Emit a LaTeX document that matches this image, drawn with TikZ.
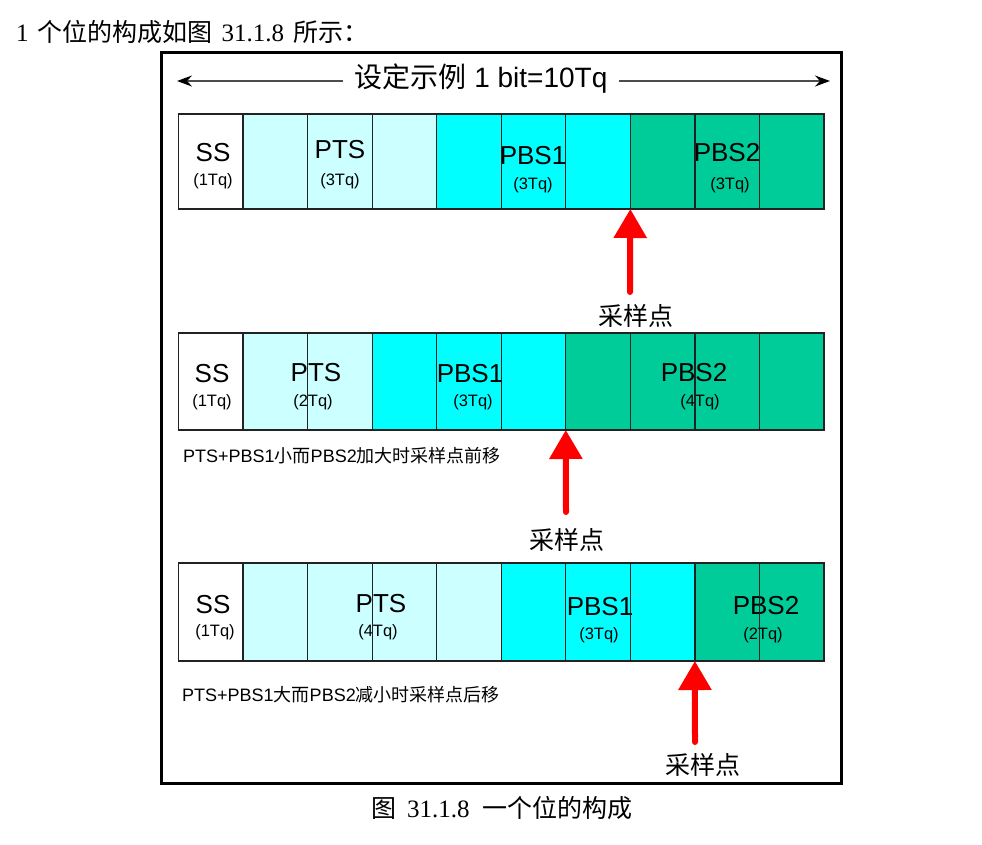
\documentclass[tikz,border=0pt]{standalone}
\usepackage{fontspec}
\setmainfont{Liberation Serif}
\newfontfamily\cjkf{Noto Sans CJK SC}
\newfontfamily\arialf{Liberation Sans}
\usetikzlibrary{arrows.meta}
\definecolor{lcyan}{HTML}{CCFFFF}
\definecolor{cyanf}{HTML}{00FFFF}
\definecolor{greenf}{HTML}{00CC99}
\definecolor{lineg}{HTML}{222222}
\tikzset{
  cellfill/.style={draw=none, inner sep=0pt, outer sep=0pt, minimum width=64.55pt, anchor=north west},
  cellline/.style={draw=lineg, line width=1.3pt},
  big/.style={font=\arialf\fontsize{26}{26}\selectfont, inner sep=0pt},
  small/.style={font=\arialf\fontsize{16.5}{16.5}\selectfont, inner sep=0pt},
  samp/.style={font=\cjkf\fontsize{25}{25}\selectfont, inner sep=0pt},
  note/.style={font=\fontsize{18}{18}\selectfont, inner sep=0pt, anchor=west},
  redarrow/.style={draw=red, line width=6pt, line cap=round, -{Triangle[width=32pt,length=29pt]}},
  toparrow/.style={draw=black!70, line width=1.4pt, -{Stealth[length=15pt,width=11pt,inset=5pt,color=black]}},
  frame/.style={draw=black, line width=3pt}
}
\begin{document}
\begin{tikzpicture}[x=1pt,y=-1pt]
\useasboundingbox (0,0) rectangle (982,844);
% intro line and caption
\node[anchor=west, inner sep=0pt, font=\fontsize{25}{25}\selectfont] (intro) at (16,32)
  {1\hspace{9pt}{\cjkf 个位的构成如图}\hspace{9pt}31.1.8\hspace{9pt}{\cjkf 所示：}};
\node[inner sep=0pt, font=\fontsize{25}{25}\selectfont] (caption) at (502,808)
  {{\cjkf 图}\, 31.1.8\ \ {\cjkf 一个位的构成}};
% frame
\draw[frame] (161.5,52.5) rectangle (841.5,783);
% title with arrows
\node[inner sep=0pt, font=\fontsize{28}{28}\selectfont] (title) at (481,79)
  {{\cjkf 设定示例}\arialf\ 1 bit=10Tq};
\coordinate (ltip) at (177,81);
\coordinate (rtip) at (830,81);
\coordinate (lstart) at (343,81);
\coordinate (rstart) at (619,81);
\draw[toparrow] (lstart) -- (ltip);
\draw[toparrow] (rstart) -- (rtip);

% ---------- row 1 ----------
\foreach \i/\col in {0/white,1/lcyan,2/lcyan,3/lcyan,4/cyanf,5/cyanf,6/cyanf,7/greenf,8/greenf,9/greenf}
  \node[cellfill, fill=\col, minimum height=95pt] (a\i) at ({178.5+64.55*\i},114) {};
\node[big] (a-ss) at (213,153) {SS};
\node[small] (a-ssq) at (213,181) {(1Tq)};
\node[big] (a-pts) at (340,150) {PTS};
\node[small] (a-ptsq) at (340,181) {(3Tq)};
\node[big] (a-p1) at (533,156) {PBS1};
\node[small] (a-p1q) at (533,185) {(3Tq)};
\node[big] (a-p2) at (727,153) {PBS2};
\node[small] (a-p2q) at (730,185) {(3Tq)};
\foreach \i in {0,...,9} \draw[cellline] (a\i.north west) rectangle (a\i.south east);
\coordinate (a-tail) at (630,292);
\draw[redarrow] (a-tail) -- (a7.south west);
\node[samp] (a-lbl) at (636,316) {采样点};

% ---------- row 2 ----------
\foreach \i/\col in {0/white,1/lcyan,2/lcyan,3/cyanf,4/cyanf,5/cyanf,6/greenf,7/greenf,8/greenf,9/greenf}
  \node[cellfill, fill=\col, minimum height=97pt] (b\i) at ({178.5+64.55*\i},333) {};
\node[big] (b-ss) at (212,374) {SS};
\node[small] (b-ssq) at (212,402) {(1Tq)};
\node[big] (b-pts) at (316,373) {PTS};
\node[small] (b-ptsq) at (313,402) {(2Tq)};
\node[big] (b-p1) at (470,374) {PBS1};
\node[small] (b-p1q) at (473,402) {(3Tq)};
\node[big] (b-p2) at (694,373) {PBS2};
\node[small] (b-p2q) at (700,402) {(4Tq)};
\foreach \i in {0,...,9} \draw[cellline] (b\i.north west) rectangle (b\i.south east);
\node[note] (b-note) at (183,456) {{\arialf PTS+PBS1}{\cjkf 小而}{\arialf PBS2}{\cjkf 加大时采样点前移}};
\coordinate (b-tail) at (566,512);
\draw[redarrow] (b-tail) -- (b6.south west);
\node[samp] (b-lbl) at (567,540) {采样点};

% ---------- row 3 ----------
\foreach \i/\col in {0/white,1/lcyan,2/lcyan,3/lcyan,4/lcyan,5/cyanf,6/cyanf,7/cyanf,8/greenf,9/greenf}
  \node[cellfill, fill=\col, minimum height=98pt] (c\i) at ({178.5+64.55*\i},563) {};
\node[big] (c-ss) at (213,605) {SS};
\node[small] (c-ssq) at (215,632) {(1Tq)};
\node[big] (c-pts) at (381,604) {PTS};
\node[small] (c-ptsq) at (378,632) {(4Tq)};
\node[big] (c-p1) at (600,607) {PBS1};
\node[small] (c-p1q) at (599,635) {(3Tq)};
\node[big] (c-p2) at (766,606) {PBS2};
\node[small] (c-p2q) at (763,635) {(2Tq)};
\foreach \i in {0,...,9} \draw[cellline] (c\i.north west) rectangle (c\i.south east);
\node[note] (c-note) at (182,695) {{\arialf PTS+PBS1}{\cjkf 大而}{\arialf PBS2}{\cjkf 减小时采样点后移}};
\coordinate (c-tail) at (695,742);
\draw[redarrow] (c-tail) -- (c8.south west);
\node[samp] (c-lbl) at (703,765) {采样点};
\end{tikzpicture}
\end{document}
